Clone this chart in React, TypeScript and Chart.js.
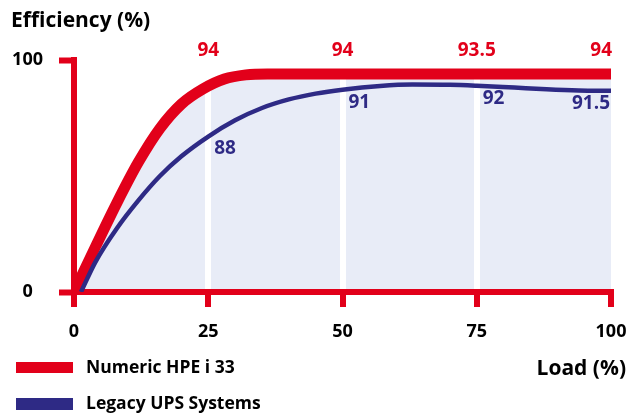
import React, { useEffect, useRef } from "react";
import { Chart, registerables } from "chart.js";

Chart.register(...registerables);

// ---- data ----
const loadAxisTicks = [0, 25, 50, 75, 100];
const efficiencyTicks = [0, 100];

const hpeLoad = [0, 4, 8, 12, 16, 20, 24, 28, 32, 36, 50, 75, 100];
const hpeEff = [0, 19.5, 38.5, 56, 70.5, 81, 87.5, 91.8, 93.6, 94, 94, 94, 94];

const legacyLoad = [1.3, 4, 8, 12, 16, 20, 25, 30, 35, 40, 45, 50, 57, 63, 70, 75, 82, 88, 94, 100];
const legacyEff = [0, 13, 27.5, 39.5, 50, 58.5, 67, 74, 79.3, 83, 85.5, 87.2, 88.8, 89.4, 89.3, 88.9, 88.1, 87.4, 86.9, 86.7];

const labelLoads = [25, 50, 75, 100];
const hpeLabels = ["94", "94", "93.5", "94"];
const legacyLabels = ["88", "91", "92", "91.5"];

const seriesNames = ["Numeric HPE i 33", "Legacy UPS Systems"];
const yTitle = "Efficiency (%)";
const xTitle = "Load (%)";

const RED = "#e2001a";
const BLUE = "#2e2a85";
const FILL = "#e8ecf7";
const FONT = "'Open Sans', Lato, sans-serif";

export default function App() {
  const ref = useRef<HTMLCanvasElement | null>(null);

  useEffect(() => {
    document.body.style.margin = "0";
    const canvas = ref.current;
    if (!canvas) return;

    const textPlugin = {
      id: "texts",
      afterDraw(chart: any) {
        const ctx = chart.ctx;
        const area = chart.chartArea;
        const xs = chart.scales.x;
        ctx.save();
        ctx.fillStyle = "#000";
        ctx.font = `bold 21px ${FONT}`;
        ctx.textBaseline = "middle";
        ctx.textAlign = "left";
        ctx.fillText(yTitle, 11, 21);
        ctx.textAlign = "right";
        ctx.fillText(xTitle, 626, 369);

        // legend
        ctx.font = `bold 17.5px ${FONT}`;
        ctx.textAlign = "left";
        ctx.fillStyle = RED;
        ctx.fillRect(16, 362, 57, 11);
        ctx.fillStyle = BLUE;
        ctx.fillRect(16, 398, 57, 12);
        ctx.fillStyle = "#000";
        ctx.fillText(seriesNames[0], 86, 368);
        ctx.fillText(seriesNames[1], 86, 404);

        // red labels
        ctx.font = `bold 19px ${FONT}`;
        ctx.fillStyle = RED;
        ctx.textAlign = "left";
        labelLoads.forEach((v, i) => {
          const w = ctx.measureText(hpeLabels[i]).width;
          let left = xs.getPixelForValue(v) - w / 2;
          if (left + w > area.right + 1) left = area.right + 1 - w;
          ctx.fillText(hpeLabels[i], left, area.top - 9);
        });

        // blue labels
        ctx.fillStyle = BLUE;
        ctx.textBaseline = "top";
        const meta = chart.getDatasetMeta(1);
        labelLoads.forEach((v, i) => {
          const idx = legacyLoad.indexOf(v);
          const pt = meta.data[idx];
          const w = ctx.measureText(legacyLabels[i]).width;
          let left = pt.x + 6;
          if (left + w > area.right - 1) left = area.right - 1 - w;
          ctx.fillText(legacyLabels[i], left, pt.y + 3);
        });
        ctx.restore();
      },
    };

    const chart = new Chart(canvas, {
      type: "line",
      data: {
        datasets: [
          {
            label: seriesNames[0],
            data: hpeLoad.map((x, i) => ({ x, y: hpeEff[i] })),
            borderColor: RED,
            borderWidth: 11,
            backgroundColor: FILL,
            fill: "origin",
            pointRadius: 0,
            cubicInterpolationMode: "monotone",
            order: 2,
          },
          {
            label: seriesNames[1],
            data: legacyLoad.map((x, i) => ({ x, y: legacyEff[i] })),
            borderColor: BLUE,
            borderWidth: 4.5,
            fill: false,
            pointRadius: 0,
            cubicInterpolationMode: "monotone",
            order: 1,
          },
        ],
      },
      options: {
        responsive: false,
        animation: false,
        layout: { padding: { top: 60, right: 31, left: 0, bottom: 0 } },
        plugins: {
          legend: { display: false },
          tooltip: { enabled: false },
          filler: { drawTime: "beforeDraw" } as any,
        },
        scales: {
          x: {
            type: "linear",
            min: 0,
            max: 100,
            afterFit: (s: any) => {
              s.height = 122;
            },
            afterBuildTicks: (s: any) => {
              s.ticks = loadAxisTicks.map((value) => ({ value }));
            },
            border: { display: true, color: RED, width: 6 },
            grid: {
              drawOnChartArea: true,
              color: (c: any) =>
                c.tick && c.tick.value > 0 && c.tick.value < 100 ? "#ffffff" : "rgba(0,0,0,0)",
              lineWidth: 6,
              tickColor: RED,
              tickWidth: 6,
              tickLength: 15,
            },
            ticks: {
              color: "#000",
              font: { family: FONT, size: 18, weight: "bold" },
              padding: 14,
              maxRotation: 0,
            },
          },
          y: {
            type: "linear",
            min: 0,
            max: 100,
            afterFit: (s: any) => {
              s.width = 74;
            },
            afterBuildTicks: (s: any) => {
              s.ticks = efficiencyTicks.map((value) => ({ value }));
            },
            border: { display: true, color: RED, width: 6 },
            grid: {
              drawOnChartArea: false,
              tickColor: RED,
              tickWidth: 6,
              tickLength: 15,
            },
            ticks: {
              color: "#000",
              font: { family: FONT, size: 18, weight: "bold" },
              padding: 16,
              crossAlign: "center",
            },
          },
        },
      },
      plugins: [textPlugin],
    });

    return () => chart.destroy();
  }, []);

  return (
    <div style={{ position: "absolute", left: 0, top: 0, width: 642, height: 414, background: "#fff" }}>
      <canvas ref={ref} width={642} height={414} style={{ width: 642, height: 414 }} />
    </div>
  );
}
